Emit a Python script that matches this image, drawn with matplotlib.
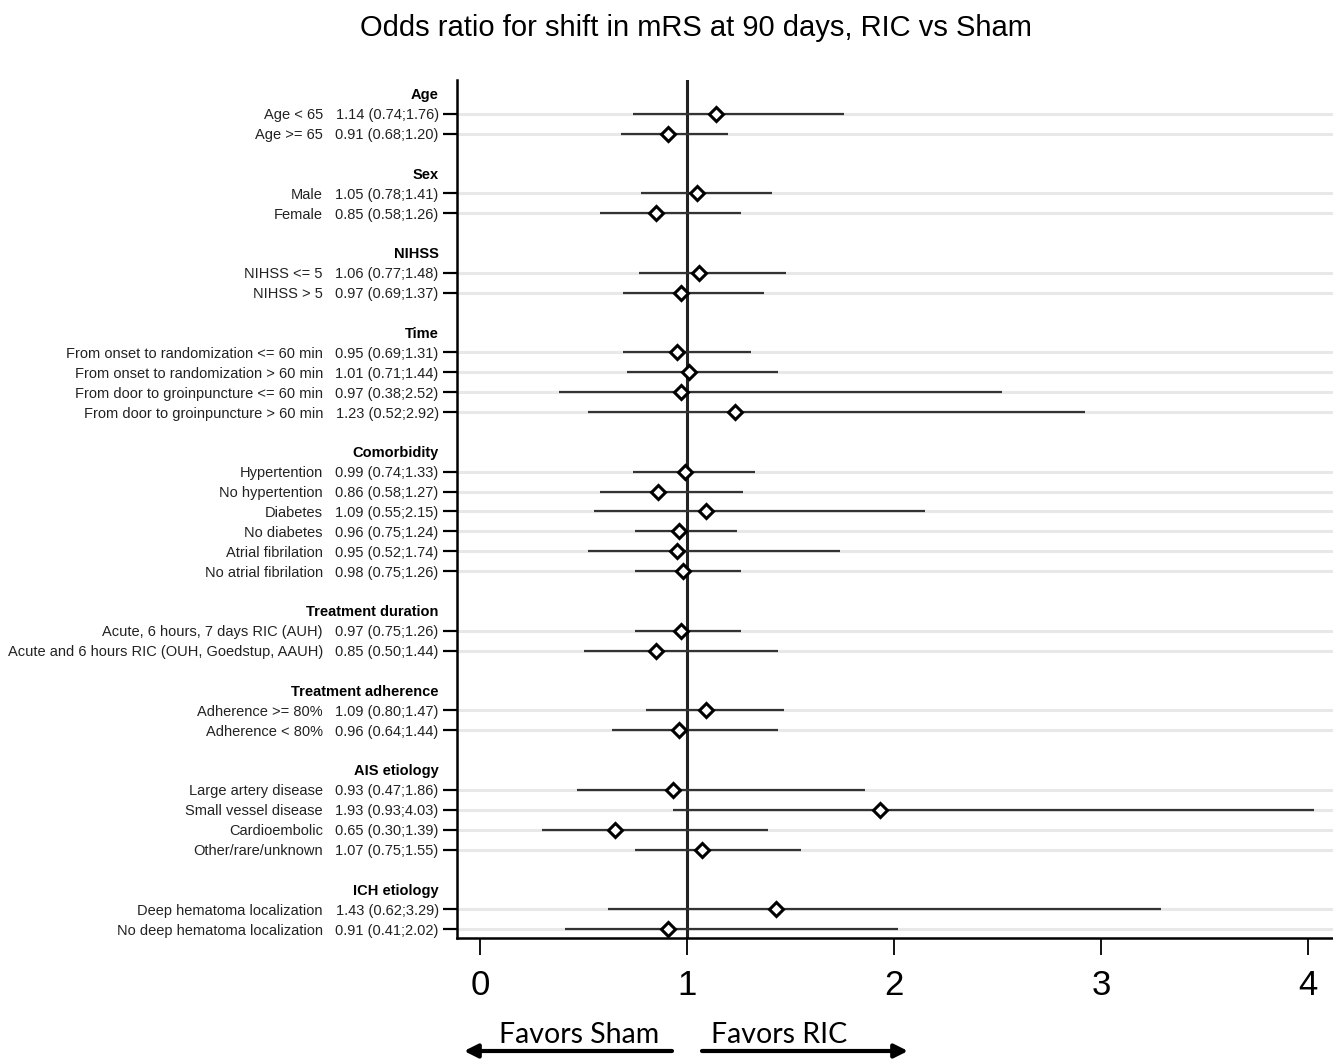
import matplotlib.pyplot as plt

plt.rcParams['font.family'] = ['Liberation Sans', 'DejaVu Sans']

# groups and their rows
groups = ["Age", "Sex", "NIHSS", "Time", "Comorbidity", "Treatment duration",
          "Treatment adherence", "AIS etiology", "ICH etiology"]
group_sizes = [2, 2, 2, 4, 6, 2, 2, 4, 2]

labels = [
    "Age < 65", "Age >= 65",
    "Male", "Female",
    "NIHSS <= 5", "NIHSS > 5",
    "From onset to randomization <= 60 min", "From onset to randomization > 60 min",
    "From door to groinpuncture <= 60 min", "From door to groinpuncture > 60 min",
    "Hypertention", "No hypertention", "Diabetes", "No diabetes",
    "Atrial fibrilation", "No atrial fibrilation",
    "Acute, 6 hours, 7 days RIC (AUH)", "Acute and 6 hours RIC (OUH, Goedstup, AAUH)",
    "Adherence >= 80%", "Adherence < 80%",
    "Large artery disease", "Small vessel disease", "Cardioembolic", "Other/rare/unknown",
    "Deep hematoma localization", "No deep hematoma localization",
]
odds = [1.14, 0.91, 1.05, 0.85, 1.06, 0.97, 0.95, 1.01, 0.97, 1.23,
        0.99, 0.86, 1.09, 0.96, 0.95, 0.98, 0.97, 0.85, 1.09, 0.96,
        0.93, 1.93, 0.65, 1.07, 1.43, 0.91]
lower = [0.74, 0.68, 0.78, 0.58, 0.77, 0.69, 0.69, 0.71, 0.38, 0.52,
         0.74, 0.58, 0.55, 0.75, 0.52, 0.75, 0.75, 0.50, 0.80, 0.64,
         0.47, 0.93, 0.30, 0.75, 0.62, 0.41]
upper = [1.76, 1.20, 1.41, 1.26, 1.48, 1.37, 1.31, 1.44, 2.52, 2.92,
         1.33, 1.27, 2.15, 1.24, 1.74, 1.26, 1.26, 1.44, 1.47, 1.44,
         1.86, 4.03, 1.39, 1.55, 3.29, 2.02]
xticks = [0, 1, 2, 3, 4]

# row positions: header, rows, blank
header_y = []
row_y = []
pos = 0
for n in group_sizes:
    header_y.append(pos)
    pos += 1
    for k in range(n):
        row_y.append(pos)
        pos += 1
    pos += 1

fig = plt.figure(figsize=(13.33, 10.59), dpi=100)
ax = fig.add_axes([457 / 1333, 1 - 938 / 1059, 1 - 457 / 1333, (938 - 80) / 1059])

for y in row_y:
    ax.axhline(y, color='#e8e8e8', lw=2.2, zorder=0)

ax.axvline(1, color='#222222', lw=2.2, zorder=2)
ax.hlines(row_y, lower, upper, color='#333333', lw=1.6, zorder=3)
ax.plot(odds, row_y, 'D', ms=7, mfc='white', mec='black', mew=2.2, zorder=4, ls='none')

ax.set_xlim(-0.111, 4.12)
ax.set_ylim(42.45, -0.7)

ax.set_xticks(xticks)
ax.set_xticklabels([str(t) for t in xticks], fontsize=25)
ax.tick_params(axis='x', length=12, width=1.3, pad=10, direction='out')

fs = 10.55
ci_text = [f"{o:.2f} ({l:.2f};{u:.2f})" for o, l, u in zip(odds, lower, upper)]
ax.set_yticks(row_y)
ax.set_yticklabels(ci_text, fontsize=fs, color='#222222')
ax.tick_params(axis='y', length=10, width=1.6, pad=3.2, direction='out')

for y, lab in zip(row_y, labels):
    ax.annotate(lab, xy=(0, y), xycoords=('axes fraction', 'data'),
                xytext=(-96.5, 0), textcoords='offset points',
                ha='right', va='center_baseline', fontsize=fs, color='#222222')
for y, g in zip(header_y, groups):
    ax.annotate(g, xy=(0, y), xycoords=('axes fraction', 'data'),
                xytext=(-13.4, 0), textcoords='offset points',
                ha='right', va='center_baseline', fontsize=fs, fontweight='bold')

for side in ['top', 'right']:
    ax.spines[side].set_visible(False)
ax.spines['left'].set_linewidth(1.8)
ax.spines['bottom'].set_linewidth(1.8)

fig.text(696 / 1333, 1 - 28 / 1059, "Odds ratio for shift in mRS at 90 days, RIC vs Sham",
         ha='center', va='center', fontsize=21)

# favors arrows
fig.text(579 / 1333, 1 - 1035 / 1059, "Favors Sham", ha='center', va='center',
         fontsize=20.5, family=['Lato', 'DejaVu Sans'])
fig.text(779 / 1333, 1 - 1035 / 1059, "Favors RIC", ha='center', va='center',
         fontsize=20.5, family=['Lato', 'DejaVu Sans'])
fig.add_artist(plt.matplotlib.patches.FancyArrowPatch(
    (672 / 1333, 1 - 1051 / 1059), (464 / 1333, 1 - 1051 / 1059),
    transform=fig.transFigure, arrowstyle='-|>,head_length=8,head_width=4',
    lw=3, color='black', shrinkA=0, shrinkB=0))
fig.add_artist(plt.matplotlib.patches.FancyArrowPatch(
    (702 / 1333, 1 - 1051 / 1059), (908 / 1333, 1 - 1051 / 1059),
    transform=fig.transFigure, arrowstyle='-|>,head_length=8,head_width=4',
    lw=3, color='black', shrinkA=0, shrinkB=0))

fig.savefig("out.png", dpi=100)
